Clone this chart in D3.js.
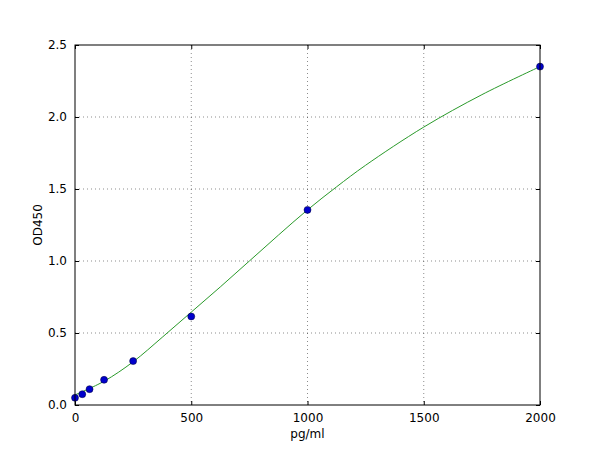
<!DOCTYPE html>
<html lang="en">
<head>
<meta charset="UTF-8">
<title>Standard curve</title>
<script src="https://d3js.org/d3.v7.min.js"></script>
<style>
  body { margin: 0; background: #fff; }
  svg text { font-family: "DejaVu Sans", sans-serif; font-size: 12px; }
  .grid line { stroke: #000; stroke-opacity: 0.45; stroke-dasharray: 1,3; }
</style>
</head>
<body>
<svg id="chart" width="600" height="450"></svg>
<script>
// measured standards
const conc = [0, 31.25, 62.5, 125, 250, 500, 1000, 2000];
const od = [0.05, 0.075, 0.11, 0.175, 0.305, 0.615, 1.355, 2.35];

// fitted curve
const fitX = [0, 125, 250, 375, 500, 625, 750, 875, 1000, 1125, 1250, 1500, 1750, 2000];
const fitY = [0.07, 0.165, 0.30, 0.47, 0.645, 0.82, 1.0, 1.18, 1.355, 1.515, 1.665, 1.93, 2.155, 2.35];

const xTicks = [0, 500, 1000, 1500, 2000];
const yTicks = [0.0, 0.5, 1.0, 1.5, 2.0, 2.5];

const svg = d3.select("#chart"),
  margin = { top: 45, right: 60, bottom: 45, left: 75 },
  width = 600 - margin.left - margin.right,
  height = 450 - margin.top - margin.bottom;

const g = svg.append("g").attr("transform", `translate(${margin.left},${margin.top})`);

const x = d3.scaleLinear().domain([0, 2000]).range([0, width]);
const y = d3.scaleLinear().domain([0, 2.5]).range([height, 0]);

// dotted grid
g.append("g").attr("class", "grid")
  .selectAll("line").data(xTicks.slice(1, -1)).enter().append("line")
  .attr("x1", d => x(d)).attr("x2", d => x(d))
  .attr("y1", 0).attr("y2", height);
g.append("g").attr("class", "grid")
  .selectAll("line").data(yTicks.slice(1, -1)).enter().append("line")
  .attr("y1", d => y(d)).attr("y2", d => y(d))
  .attr("x1", 0).attr("x2", width);

// axes, ticks pointing inward like matplotlib classic
const styleAxis = sel => {
  sel.attr("font-family", null).attr("font-size", null);
  sel.select(".domain").remove();
  sel.selectAll("line").attr("stroke", "#000");
  sel.selectAll("text").attr("fill", "#000");
};
g.append("g").attr("transform", `translate(0,${height})`)
  .call(d3.axisBottom(x).tickValues(xTicks).tickSizeInner(-4).tickSizeOuter(0).tickPadding(8).tickFormat(d3.format("d")))
  .call(styleAxis);
g.append("g")
  .call(d3.axisTop(x).tickValues(xTicks).tickSizeInner(-4).tickSizeOuter(0).tickFormat(""))
  .call(styleAxis);
g.append("g")
  .call(d3.axisLeft(y).tickValues(yTicks).tickSizeInner(-4).tickSizeOuter(0).tickPadding(8).tickFormat(d3.format(".1f")))
  .call(styleAxis);
g.append("g").attr("transform", `translate(${width},0)`)
  .call(d3.axisRight(y).tickValues(yTicks).tickSizeInner(-4).tickSizeOuter(0).tickFormat(""))
  .call(styleAxis);

// fitted curve
g.append("path")
  .datum(fitX.map((d, i) => [d, fitY[i]]))
  .attr("fill", "none")
  .attr("stroke", "#2a9a2a")
  .attr("stroke-width", 1)
  .attr("d", d3.line().x(d => x(d[0])).y(d => y(d[1])).curve(d3.curveCatmullRom));

// standards
g.selectAll(".dot")
  .data(conc.map((d, i) => [d, od[i]]))
  .enter().append("circle")
  .attr("cx", d => x(d[0]))
  .attr("cy", d => y(d[1]))
  .attr("r", 3.5)
  .attr("fill", "#0000cc")
  .attr("stroke", "#000033")
  .attr("stroke-width", 0.5);

// frame on top
g.append("rect")
  .attr("width", width).attr("height", height)
  .attr("fill", "none").attr("stroke", "#000").attr("stroke-width", 1);

// labels
g.append("text")
  .attr("x", width / 2).attr("y", height + 33)
  .attr("text-anchor", "middle")
  .text("pg/ml");
g.append("text")
  .attr("transform", `translate(-33,${height / 2}) rotate(-90)`)
  .attr("text-anchor", "middle")
  .text("OD450");
</script>
</body>
</html>
